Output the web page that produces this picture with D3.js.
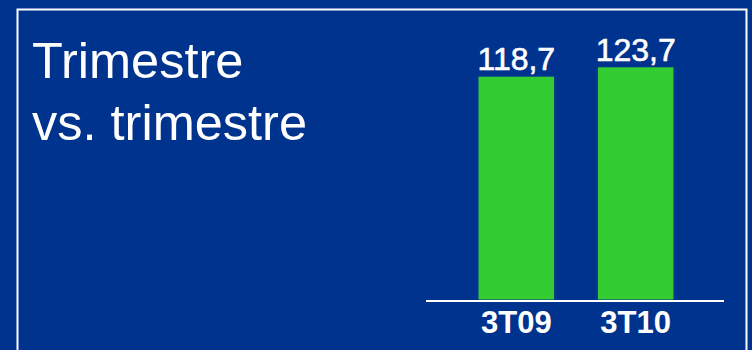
<!DOCTYPE html>
<html>
<head>
<meta charset="utf-8">
<script src="https://cdn.jsdelivr.net/npm/d3@7"></script>
<style>
  html, body { margin: 0; padding: 0; background: #00338D; }
  svg { display: block; }
</style>
</head>
<body>
<svg id="chart" width="752" height="350"></svg>
<script>
// Quarter-on-quarter comparison
const categories = ["3T09", "3T10"];
const values = [118.7, 123.7];
const valueLabels = ["118,7", "123,7"];
const titleLines = ["Trimestre", "vs. trimestre"];

const W = 752, H = 350;
const svg = d3.select("#chart");

svg.append("rect").attr("width", W).attr("height", H).attr("fill", "#00338D");

// White frame (open at the bottom edge)
svg.append("path")
  .attr("d", "M17.5,360 V9.5 H746.5 V360")
  .attr("fill", "none")
  .attr("stroke", "#ffffff")
  .attr("stroke-width", 2);

// Title
const title = svg.append("text")
  .attr("x", 33)
  .attr("fill", "#ffffff")
  .style("font-family", "'Liberation Sans', Arial, sans-serif")
  .style("font-size", "50.5px");
title.selectAll("tspan")
  .data(titleLines)
  .join("tspan")
  .attr("x", 32)
  .attr("y", (d, i) => 78 + i * 62)
  .text(d => d);

// Scales
const x = d3.scaleBand()
  .domain(categories)
  .range([426, 726])
  .paddingInner(0.367)
  .paddingOuter(0.44);

const y = d3.scaleLinear()
  .domain([0, d3.max(values)])
  .range([299.5, 67.3]);

// Bars
svg.selectAll("rect.bar")
  .data(values)
  .join("rect")
  .attr("class", "bar")
  .attr("x", (d, i) => x(categories[i]))
  .attr("y", d => y(d))
  .attr("width", x.bandwidth())
  .attr("height", d => y(0) - y(d))
  .attr("fill", "#33CC33");

// Value labels
svg.selectAll("text.val")
  .data(values)
  .join("text")
  .attr("class", "val")
  .attr("x", (d, i) => x(categories[i]) + x.bandwidth() / 2)
  .attr("y", d => y(d) - 6.5)
  .attr("text-anchor", "middle")
  .attr("fill", "#ffffff")
  .attr("stroke", "#ffffff")
  .attr("stroke-width", 0.6)
  .style("font-family", "'Liberation Sans', Arial, sans-serif")
  .style("font-size", "32px")
  .text((d, i) => valueLabels[i]);

// Category axis
const xAxis = svg.append("g")
  .attr("transform", `translate(0,${y(0) + 1.5})`)
  .call(d3.axisBottom(x).tickSize(0).tickPadding(10));
xAxis.select(".domain")
  .attr("d", "M426,0H724")
  .attr("stroke", "#ffffff")
  .attr("stroke-width", 2);
xAxis.selectAll(".tick text")
  .attr("fill", "#ffffff")
  .attr("dy", "0.71em")
  .style("font-family", "'Liberation Sans', Arial, sans-serif")
  .style("font-size", "31px")
  .style("font-weight", "bold");
</script>
</body>
</html>
